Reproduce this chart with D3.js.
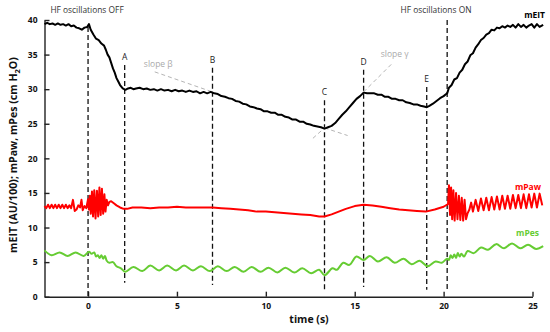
<!DOCTYPE html>
<html>
<head>
<meta charset="utf-8">
<script src="https://cdn.jsdelivr.net/npm/d3@7"></script>
<style>
  body { margin: 0; background: #fff; }
  svg { display: block; font-family: "Open Sans", sans-serif; }
</style>
</head>
<body>
<div id="chart"></div>
<script>
// mEIT (AU/100) as [time (s), value]
const mEIT = [
  [-2.45,39.4],[-2.3,39.6],[-2.15,39.4],[-2.0,39.5],[-1.85,39.3],[-1.7,39.5],[-1.55,39.3],[-1.4,39.4],
  [-1.25,39.2],[-1.1,39.4],[-0.95,39.1],[-0.8,39.2],[-0.65,38.9],[-0.5,38.8],[-0.35,38.6],[-0.2,38.9],
  [-0.05,39.0],[0.05,39.4],[0.15,38.6],[0.3,37.9],[0.45,37.3],[0.6,37.1],[0.75,36.6],[0.9,36.3],
  [1.0,35.7],[1.1,35.0],[1.2,34.6],[1.3,33.8],[1.4,33.0],[1.5,32.4],[1.6,31.6],[1.7,31.1],[1.8,30.6],
  [1.95,30.1],[2.1,29.9],[2.25,30.1],[2.4,30.2],[2.55,30.0],[2.7,30.1],[2.9,30.2],[3.1,30.0],[3.3,30.1],
  [3.5,29.9],[3.7,30.0],[3.9,29.8],[4.1,30.0],[4.3,29.8],[4.5,29.9],[4.7,29.7],[4.9,29.9],[5.1,29.7],
  [5.3,29.8],[5.5,29.6],[5.7,29.8],[5.9,29.6],[6.1,29.7],[6.3,29.4],[6.5,29.6],[6.7,29.4],[6.9,29.6],
  [7.1,29.4],[7.3,29.3],[7.5,29.0],[7.7,28.9],[7.9,28.7],[8.1,28.6],[8.3,28.3],[8.5,28.2],[8.7,27.9],
  [8.9,27.8],[9.1,27.5],[9.3,27.4],[9.5,27.2],[9.7,27.1],[9.9,26.8],[10.1,26.8],[10.3,26.6],[10.5,26.6],
  [10.7,26.3],[10.9,26.3],[11.1,26.0],[11.3,25.9],[11.5,25.6],[11.7,25.6],[11.9,25.3],[12.1,25.3],
  [12.3,25.0],[12.5,24.9],[12.7,24.7],[12.9,24.6],[13.1,24.5],[13.3,24.3],[13.5,24.5],[13.7,24.7],
  [13.9,25.1],[14.1,25.7],[14.3,26.3],[14.5,26.8],[14.7,27.4],[14.9,28.0],[15.1,28.6],[15.3,29.0],
  [15.5,29.5],[15.7,29.4],[15.9,29.4],[16.1,29.4],[16.3,29.2],[16.5,29.2],[16.7,28.9],[16.9,28.9],
  [17.1,28.6],[17.3,28.6],[17.5,28.4],[17.7,28.4],[17.9,28.1],[18.1,28.0],[18.3,27.8],[18.5,27.8],
  [18.7,27.6],[18.9,27.5],[19.05,27.4],[19.2,27.6],[19.4,27.9],[19.6,28.3],[19.8,28.7],[20.0,29.0],
  [20.2,29.4],[20.3,30.2],[20.45,30.6],[20.6,31.4],[20.75,31.6],[20.9,32.4],[21.05,32.8],[21.2,33.6],
  [21.35,34.0],[21.5,34.9],[21.65,35.2],[21.8,36.0],[21.95,36.5],[22.1,37.1],[22.25,37.4],[22.4,37.9],
  [22.55,38.1],[22.7,38.6],[22.85,38.5],[23.0,38.9],[23.15,38.8],[23.3,39.1],[23.45,38.9],[23.6,39.2],
  [23.75,39.0],[23.9,39.3],[24.05,38.9],[24.2,39.4],[24.35,39.0],[24.5,39.3],[24.65,38.9],[24.8,39.2],
  [24.95,39.4],[25.1,38.9],[25.25,39.4],[25.4,39.0],[25.6,39.3]
];

// mPaw (cm H2O)
const mPaw = [
  [-2.45,13.1],[-2.35,12.8],[-2.25,13.3],[-2.15,12.8],[-2.05,13.3],[-1.95,12.8],[-1.85,13.3],[-1.75,12.8],
  [-1.65,13.3],[-1.55,12.8],[-1.45,13.3],[-1.35,12.8],[-1.25,13.3],[-1.15,12.8],[-1.05,13.2],[-0.95,12.8],
  [-0.85,14.0],[-0.75,12.4],[-0.65,12.6],[-0.55,13.2],[-0.45,12.9],[-0.37,14.0],[-0.3,12.5],[-0.2,13.1],
  [-0.1,12.8],[0.0,14.1],[0.05,12.6],[0.1,14.6],[0.15,12.0],[0.22,15.2],[0.28,11.6],[0.35,15.4],
  [0.42,11.3],[0.5,15.3],[0.57,11.6],[0.64,15.8],[0.71,11.8],[0.78,15.6],[0.85,12.0],[0.92,14.8],
  [0.98,12.3],[1.05,14.0],[1.12,13.2],[1.2,13.7],[1.3,13.8],[1.45,13.5],[1.6,13.2],[1.8,12.9],[2.0,12.7],
  [2.2,12.7],[2.5,12.9],[3.0,12.9],[3.5,12.8],[4.0,12.9],[4.5,12.9],[5.0,13.0],[5.5,12.9],[6.0,12.9],
  [6.5,12.9],[7.0,12.9],[7.5,12.8],[8.0,12.7],[8.5,12.6],[9.0,12.5],[9.5,12.3],[10.0,12.3],[10.5,12.2],
  [11.0,12.1],[11.5,12.0],[12.0,11.9],[12.5,11.8],[13.0,11.6],[13.3,11.6],[13.7,11.9],[14.1,12.3],
  [14.5,12.7],[15.0,13.1],[15.5,13.3],[16.0,13.2],[16.5,13.0],[17.0,12.8],[17.5,12.6],[18.0,12.5],
  [18.5,12.4],[19.0,12.3],[19.5,12.6],[20.0,13.0],[20.25,13.4],
  [20.3,16.1],[20.36,11.8],[20.42,15.8],[20.48,11.2],[20.55,15.4],[20.62,11.0],[20.7,15.0],[20.78,11.2],
  [20.86,14.6],[20.94,11.1],[21.02,14.3],[21.1,11.0],[21.18,14.0],[21.26,11.2],[21.34,12.0],[21.45,12.6],
  [21.55,13.6],[21.65,12.3],[21.8,14.0],[21.95,12.4],[22.1,14.2],[22.25,12.5],[22.4,14.3],[22.55,12.5],
  [22.7,14.4],[22.85,12.6],[23.0,14.5],[23.15,12.6],[23.3,14.6],[23.45,12.7],[23.6,14.6],[23.75,12.7],
  [23.9,14.7],[24.05,12.8],[24.2,14.7],[24.35,12.8],[24.5,14.8],[24.65,12.8],[24.8,14.8],[24.95,12.9],
  [25.1,14.9],[25.25,12.9],[25.4,14.9],[25.55,13.2]
];

// mPes (cm H2O)
const mPes = [
  [-2.45,6.7],[-2.05,6.0],[-1.6,6.4],[-1.15,5.9],[-0.7,6.4],[-0.25,5.9],[0.05,6.5],[0.2,6.2],[0.35,6.4],
  [0.45,5.8],[0.55,6.0],[0.65,5.6],[0.75,6.0],[0.85,5.5],[0.95,5.9],[1.05,5.2],[1.2,4.9],[1.4,5.0],
  [1.6,4.4],[1.85,4.1],[2.1,3.6],[2.55,4.3],[3.05,3.7],[3.5,4.5],[4.0,3.8],[4.45,4.5],[4.95,3.8],
  [5.4,4.5],[5.9,3.8],[6.35,4.4],[6.85,3.7],[7.3,4.4],[7.8,3.7],[8.25,4.3],[8.75,3.6],[9.2,4.3],
  [9.7,3.6],[10.15,4.2],[10.65,3.5],[11.1,4.2],[11.6,3.5],[12.05,4.1],[12.55,3.4],[13.0,3.9],[13.3,3.1],
  [13.75,4.1],[14.0,3.9],[14.35,4.9],[14.7,4.6],[15.1,5.8],[15.5,5.3],[15.85,5.9],[16.3,5.1],[16.8,5.7],
  [17.25,4.9],[17.75,5.5],[18.2,4.7],[18.65,5.2],[19.1,4.4],[19.55,5.1],[19.9,4.9],[20.2,5.5],[20.3,5.3],
  [20.4,6.0],[20.5,5.6],[20.6,6.1],[20.7,5.6],[20.8,6.3],[20.9,5.8],[21.0,6.2],[21.15,5.8],[21.35,6.6],
  [21.7,6.3],[22.1,7.1],[22.5,6.8],[22.95,7.6],[23.4,7.0],[23.85,7.7],[24.3,7.0],[24.75,7.5],[25.2,6.9],
  [25.6,7.3]
];

// event markers: time, letter, top / bottom of the dashed line (y units)
const markerTimes  = [0, 2.06, 7.0, 13.3, 15.5, 19.05, 20.2];
const markerLabels = ['', 'A', 'B', 'C', 'D', 'E', ''];
const markerTops   = [39.0, 33.5, 33.1, 28.4, 32.8, 30.3, 40.0];
const markerBottoms = [0, 2.0, 1.7, 1.0, 1.4, 1.0, 0.7];

// gray slope guides, [t, value] end points
const slopeBeta  = [[[3.75, 32.5], [7.0, 29.6]], [[13.3, 24.4], [14.6, 23.3]]];
const slopeGamma = [[[12.65, 22.9], [13.3, 24.4]], [[15.5, 29.6], [17.1, 33.7]]];

const xTicks = [0, 5, 10, 15, 20, 25];
const yTicks = [0, 5, 10, 15, 20, 25, 30, 35, 40];

const width = 550, height = 332;

const svg = d3.select('#chart').append('svg')
    .attr('width', width)
    .attr('height', height);

const x = d3.scaleLinear().domain([-2.45, 25]).range([44.5, 532.5]);
const y = d3.scaleLinear().domain([0, 40]).range([296.7, 20]);

// axes, ticks pointing inward
const xAxis = svg.append('g')
    .attr('transform', `translate(0,${y(0)})`)
    .call(d3.axisBottom(x).tickValues(xTicks).tickSize(-5).tickSizeOuter(0).tickPadding(6));
const yAxis = svg.append('g')
    .attr('transform', `translate(${x(-2.45)},0)`)
    .call(d3.axisLeft(y).tickValues(yTicks).tickSize(-5).tickSizeOuter(0).tickPadding(7));

[xAxis, yAxis].forEach(g => {
    g.select('.domain').attr('stroke', '#222').attr('stroke-width', 1.4);
    g.selectAll('.tick line').attr('stroke', '#222').attr('stroke-width', 1.4);
    g.selectAll('.tick text')
        .attr('fill', '#111')
        .style('font-family', '"Open Sans", sans-serif')
        .style('font-size', '8.5px')
        .style('font-weight', 'bold');
});

// dashed event lines
svg.selectAll('.marker')
    .data(markerTimes)
    .join('line')
    .attr('class', 'marker')
    .attr('x1', d => x(d)).attr('x2', d => x(d))
    .attr('y1', (d, i) => y(markerTops[i]))
    .attr('y2', (d, i) => y(markerBottoms[i]))
    .attr('stroke', '#111')
    .attr('stroke-width', 1.3)
    .attr('stroke-dasharray', '5,3');

svg.selectAll('.marker-label')
    .data(markerTimes.filter((d, i) => markerLabels[i]))
    .join('text')
    .attr('class', 'marker-label')
    .attr('x', d => x(d))
    .attr('y', d => y(markerTops[markerTimes.indexOf(d)]) - 5)
    .attr('text-anchor', 'middle')
    .attr('fill', '#222')
    .style('font-size', '8.5px')
    .text(d => markerLabels[markerTimes.indexOf(d)]);

// slope guides
const guide = d3.line().x(d => x(d[0])).y(d => y(d[1]));
svg.selectAll('.guide')
    .data(slopeBeta.concat(slopeGamma))
    .join('path')
    .attr('class', 'guide')
    .attr('d', guide)
    .attr('fill', 'none')
    .attr('stroke', '#b5b5b5')
    .attr('stroke-width', 1)
    .attr('stroke-dasharray', '4,3');

svg.append('text').attr('x', x(3.95)).attr('y', y(32.6) - 4)
    .attr('text-anchor', 'middle').attr('fill', '#aaa')
    .style('font-size', '8.5px').text('slope β');
svg.append('text').attr('x', x(17.25)).attr('y', y(35.1) + 3)
    .attr('text-anchor', 'middle').attr('fill', '#aaa')
    .style('font-size', '8.5px').text('slope γ');

// series (mPes is a smooth breathing wave, the others are drawn straight)
const line = d3.line().x(d => x(d[0])).y(d => y(d[1]));
const smoothLine = d3.line().x(d => x(d[0])).y(d => y(d[1])).curve(d3.curveCatmullRom);
const series = [
    { data: mPes, color: '#66cc33', name: 'mPes', gen: smoothLine },
    { data: mPaw, color: '#ff0000', name: 'mPaw', gen: line },
    { data: mEIT, color: '#000000', name: 'mEIT', gen: line }
];
svg.selectAll('.series')
    .data(series)
    .join('path')
    .attr('class', 'series')
    .attr('d', d => d.gen(d.data))
    .attr('fill', 'none')
    .attr('stroke', d => d.color)
    .attr('stroke-width', 2)
    .attr('stroke-linejoin', 'round');

// series names at the right end
svg.append('text').attr('x', 545).attr('y', 18).attr('text-anchor', 'end')
    .attr('fill', '#000').style('font-size', '8.5px').style('font-weight', 'bold').text('mEIT');
svg.append('text').attr('x', 541).attr('y', 190).attr('text-anchor', 'end')
    .attr('fill', '#ff0000').style('font-size', '8.5px').style('font-weight', 'bold').text('mPaw');
svg.append('text').attr('x', 539).attr('y', 236).attr('text-anchor', 'end')
    .attr('fill', '#66cc33').style('font-size', '8.5px').style('font-weight', 'bold').text('mPes');

// HF annotations
svg.append('text').attr('x', x(0) - 1).attr('y', 13).attr('text-anchor', 'middle')
    .attr('fill', '#333').style('font-size', '8.4px').text('HF oscillations OFF');
svg.append('text').attr('x', 436).attr('y', 13).attr('text-anchor', 'middle')
    .attr('fill', '#333').style('font-size', '8.4px').text('HF oscillations ON');

// axis titles
svg.append('text').attr('x', 309).attr('y', 323).attr('text-anchor', 'middle')
    .attr('fill', '#111').style('font-size', '10.5px').style('font-weight', 'bold').text('time (s)');

const yTitle = svg.append('text')
    .attr('transform', 'translate(17,155) rotate(-90)')
    .attr('text-anchor', 'middle')
    .attr('fill', '#111')
    .style('font-size', '10.6px')
    .style('font-weight', 'bold');
yTitle.append('tspan').text('mEIT (AU/100); mPaw, mPes (cm H');
yTitle.append('tspan').attr('dy', 3).style('font-size', '7.5px').text('2');
yTitle.append('tspan').attr('dy', -3).text('O)');
</script>
</body>
</html>
